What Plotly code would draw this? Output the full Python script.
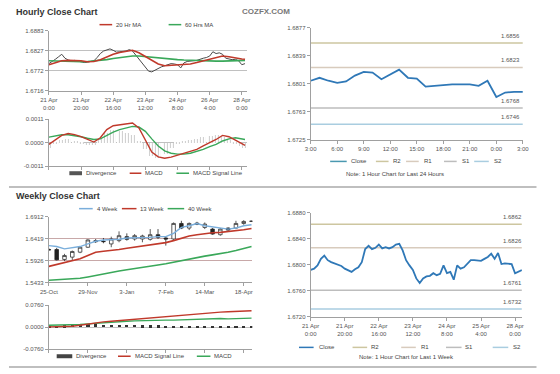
import plotly.graph_objects as go

W, H = 560, 374

# ---------------------------------------------------------------- data
# Hourly close chart (last week, 2-hour samples)
hourly_hours = list(range(0, 124, 2))
hourly_close = [1.6791, 1.6796, 1.6803, 1.6810, 1.6817, 1.6806, 1.6801, 1.6799, 1.6800, 1.6798,
                1.6796, 1.6794, 1.6795, 1.6797, 1.6799, 1.6808, 1.6819, 1.6826, 1.6830, 1.6832,
                1.6828, 1.6823, 1.6824, 1.6824, 1.6826, 1.6830, 1.6826, 1.6815, 1.6803, 1.6791,
                1.6780, 1.6770, 1.6768, 1.6773, 1.6776, 1.6782, 1.6785, 1.6788, 1.6791, 1.6790,
                1.6788, 1.6779, 1.6793, 1.6797, 1.6799, 1.6799, 1.6800, 1.6804, 1.6806, 1.6808,
                1.6812, 1.6824, 1.6819, 1.6821, 1.6817, 1.6806, 1.6803, 1.6802, 1.6803, 1.6799,
                1.6788, 1.6791]
ma_hours = list(range(0, 121, 4)) + [122]
ma20_hr = [1.6788, 1.6793, 1.6799, 1.6800, 1.6800, 1.6799, 1.6796, 1.6797, 1.6802, 1.6810,
           1.6817, 1.6822, 1.6826, 1.6828, 1.6821, 1.6810, 1.6799, 1.6790, 1.6785, 1.6786,
           1.6787, 1.6788, 1.6790, 1.6794, 1.6799, 1.6803, 1.6808, 1.6812, 1.6810, 1.6806,
           1.6804, 1.6803]
ma60_hr = [1.6799, 1.6798, 1.6797, 1.6796, 1.6796, 1.6796, 1.6797, 1.6798, 1.6800, 1.6802,
           1.6805, 1.6808, 1.6811, 1.6812, 1.6812, 1.6810, 1.6808, 1.6806, 1.6804, 1.6803,
           1.6802, 1.6801, 1.6800, 1.6800, 1.6799, 1.6799, 1.6798, 1.6798, 1.6799, 1.6800,
           1.6800, 1.6800]
macd_hr = [-0.00008, 0.00012, 0.00034, 0.00043, 0.00038, 0.00028, 0.00015, 0.00003, 0.00023, 0.00061,
           0.00079, 0.00084, 0.00087, 0.00092, 0.00069, 0.00015, -0.00043, -0.00066, -0.00072, -0.00067,
           -0.00058, -0.00049, -0.00043, -0.00031, -0.00015, 0.0, 0.00015, 0.00034, 0.00028, 0.00012,
           -0.00003, -0.00012]
signal_hr = [0.00026, 0.00031, 0.00037, 0.00037, 0.00034, 0.00028, 0.00021, 0.00015, 0.00018, 0.00034,
             0.00049, 0.00061, 0.00070, 0.00076, 0.00073, 0.00053, 0.00018, -0.00015, -0.00038, -0.00049,
             -0.00053, -0.00053, -0.00049, -0.00041, -0.00031, -0.00018, -0.00008, 0.00008, 0.00018, 0.00023,
             0.00018, 0.00015]
divergence_hr = [-0.00023, -0.00008, 0.00012, 0.00015, 0.00008, -0.00005, -0.00012, -0.00010, 0.00015, 0.00046,
                 0.00058, 0.00053, 0.00046, 0.00034, 0.00008, -0.00031, -0.00061, -0.00073, -0.00053, -0.00023,
                 -0.00008, 0.00005, 0.00012, 0.00018, 0.00028, 0.00031, 0.00034, 0.00028, 0.00012, -0.00008,
                 -0.00018, -0.00023]
hourly_tick_hours = [0, 20, 40, 60, 80, 100, 120]
hourly_tick_labels_left = ["21 Apr<br>0:00", "21 Apr<br>20:00", "22 Apr<br>16:00", "23 Apr<br>12:00",
                           "24 Apr<br>8:00", "26 Apr<br>4:00", "28 Apr<br>0:00"]
hourly_tick_labels_right = ["21 Apr<br>0:00", "21 Apr<br>20:00", "22 Apr<br>16:00", "23 Apr<br>12:00",
                            "24 Apr<br>8:00", "25 Apr<br>4:00", "28 Apr<br>0:00"]
price_hr_ticks = [1.6716, 1.6772, 1.6827, 1.6883]
macd_hr_ticks = [-0.0011, 0.0, 0.0011]

# Last 24 hours
day_hours = list(range(25))
day_close = [1.6805, 1.6809, 1.6805, 1.6802, 1.6804, 1.6812, 1.6817, 1.6816, 1.6807, 1.6814,
             1.6820, 1.6809, 1.6808, 1.6797, 1.6798, 1.6800, 1.6800, 1.6800, 1.6800, 1.6798,
             1.6805, 1.6783, 1.6789, 1.6790, 1.6790]
day_tick_hours = list(range(0, 25, 3))
day_tick_labels = ["3:00", "6:00", "9:00", "12:00", "15:00", "18:00", "21:00", "0:00", "3:00"]
day_ticks = [1.6725, 1.6763, 1.6801, 1.6839, 1.6877]
pivot_names = ["R2", "R1", "S1", "S2"]
day_pivots = [1.6856, 1.6823, 1.6768, 1.6746]

# Weekly candles
weeks = list(range(27))
week_open = [1.6171, 1.6171, 1.5949, 1.6001, 1.6112, 1.6223, 1.6371, 1.6356, 1.6297, 1.6371,
             1.6460, 1.6408, 1.6408, 1.6401, 1.6504, 1.6430, 1.6408, 1.6756, 1.6653, 1.6764,
             1.6667, 1.6630, 1.6504, 1.6653, 1.6653, 1.6756, 1.6801]
week_high = [1.6200, 1.6208, 1.6075, 1.6149, 1.6238, 1.6401, 1.6408, 1.6430, 1.6460, 1.6579,
             1.6534, 1.6519, 1.6504, 1.6630, 1.6630, 1.6460, 1.6779, 1.6816, 1.6779, 1.6793,
             1.6779, 1.6653, 1.6653, 1.6667, 1.6816, 1.6830, 1.6816]
week_low = [1.6150, 1.5926, 1.5912, 1.5926, 1.6090, 1.6208, 1.6319, 1.6312, 1.6223, 1.6334,
            1.6371, 1.6371, 1.6334, 1.6371, 1.6408, 1.6260, 1.6386, 1.6630, 1.6608, 1.6719,
            1.6630, 1.6504, 1.6482, 1.6593, 1.6630, 1.6727, 1.6793]
week_close = [1.6164, 1.5941, 1.6037, 1.6127, 1.6223, 1.6386, 1.6349, 1.6349, 1.6408, 1.6482,
              1.6401, 1.6482, 1.6475, 1.6504, 1.6445, 1.6408, 1.6756, 1.6653, 1.6756, 1.6742,
              1.6742, 1.6519, 1.6630, 1.6608, 1.6756, 1.6801, 1.6808]
ma4_wk = [1.6260, 1.6238, 1.6186, 1.6208, 1.6238, 1.6297, 1.6356, 1.6386, 1.6386, 1.6401,
          1.6430, 1.6430, 1.6430, 1.6445, 1.6460, 1.6460, 1.6534, 1.6667, 1.6705, 1.6756,
          1.6705, 1.6682, 1.6653, 1.6630, 1.6653, 1.6705, 1.6727]
ma13_wk = [1.5793, 1.5838, 1.5867, 1.5912, 1.5964, 1.6038, 1.6112, 1.6134, 1.6149, 1.6171,
           1.6201, 1.6223, 1.6245, 1.6267, 1.6297, 1.6327, 1.6371, 1.6423, 1.6475, 1.6504,
           1.6534, 1.6549, 1.6556, 1.6571, 1.6593, 1.6616, 1.6645]
ma40_wk = [1.5482, 1.5489, 1.5497, 1.5504, 1.5526, 1.5556, 1.5593, 1.5630, 1.5660, 1.5689,
           1.5719, 1.5749, 1.5778, 1.5800, 1.5823, 1.5852, 1.5889, 1.5926, 1.5964, 1.6001,
           1.6023, 1.6052, 1.6075, 1.6112, 1.6149, 1.6193, 1.6238]
week_tick_idx = [0, 5, 10, 15, 20, 25]
week_tick_labels = ["25-Oct", "29-Nov", "3-Jan", "7-Feb", "14-Mar", "18-Apr"]
week_ticks = [1.5433, 1.5926, 1.6419, 1.6912]
signal_wk = [0.0012, 0.0012, 0.0023, 0.0035, 0.0069, 0.0115, 0.0150, 0.0184, 0.0207, 0.0230,
             0.0265, 0.0288, 0.0299, 0.0322, 0.0345, 0.0368, 0.0392, 0.0415, 0.0438, 0.0461,
             0.0484, 0.0507, 0.0518, 0.0530, 0.0541, 0.0553, 0.0564]
macd_wk = [0.0069, 0.0069, 0.0069, 0.0081, 0.0092, 0.0115, 0.0138, 0.0161, 0.0184, 0.0196,
           0.0207, 0.0219, 0.0230, 0.0230, 0.0242, 0.0242, 0.0242, 0.0253, 0.0265, 0.0288,
           0.0299, 0.0311, 0.0299, 0.0288, 0.0299, 0.0311, 0.0311]
divergence_wk = [0.004, 0.005, 0.006, 0.007, 0.009, 0.011, 0.010, 0.009, 0.008, 0.008,
                 0.007, 0.007, 0.006, 0.006, 0.006, 0.005, 0.005, 0.005, 0.005, 0.004,
                 0.004, 0.003, 0.003, 0.002, 0.002, 0.002, 0.002]
macd_wk_ticks = [-0.0760, 0.0, 0.0760]

# Last week, hourly (2-hour samples)
wk_hours = list(range(0, 125, 2))
wk_hour_close = [1.6792, 1.6794, 1.6799, 1.6809, 1.6814, 1.6807, 1.6804, 1.6802, 1.6799, 1.6798,
                 1.6794, 1.6792, 1.6789, 1.6793, 1.6796, 1.6804, 1.6824, 1.6829, 1.6824, 1.6826,
                 1.6831, 1.6825, 1.6827, 1.6825, 1.6827, 1.6831, 1.6832, 1.6822, 1.6807, 1.6799,
                 1.6792, 1.6779, 1.6772, 1.6779, 1.6782, 1.6783, 1.6787, 1.6784, 1.6786, 1.6799,
                 1.6787, 1.6789, 1.6777, 1.6799, 1.6794, 1.6796, 1.6802, 1.6807, 1.6807, 1.6807,
                 1.6806, 1.6809, 1.6812, 1.6817, 1.6809, 1.6818, 1.6801, 1.6802, 1.6802, 1.6801,
                 1.6787, 1.6789, 1.6792]
wk_hour_ticks = [1.6720, 1.6760, 1.6800, 1.6840, 1.6880]
wk_pivots = [1.6862, 1.6826, 1.6761, 1.6732]

# ---------------------------------------------------------------- style
FONT = "Liberation Sans, Arial, sans-serif"
RED = "#c0392b"
GREEN = "#3aa85a"
BLUE4 = "#7aaedb"
CLOSE_BLUE = "#2f78b7"
PRICE_GRAY = "#4a4a4a"
PIVOT_COLORS = ["#cdc6a0", "#d8cbbd", "#bdbdbd", "#a9cde0"]
AXIS = "#a0a0a0"
GRID_H = "#c0c0c0"
GRID_W = "#c8a8a8"
TICKFONT = dict(family=FONT, size=6, color="#555555")


def dx(a, b):
    return [a / W, b / W]


def dy(top, bottom):
    return [1 - bottom / H, 1 - top / H]


def fmt(v):
    return f"{round(v, 4):.4f}"


fig = go.Figure()

# ---- hourly price (x, y)
fig.add_trace(go.Scatter(x=hourly_hours, y=hourly_close, mode="lines",
                         line=dict(color=PRICE_GRAY, width=1), xaxis="x", yaxis="y"))
fig.add_trace(go.Scatter(x=ma_hours, y=ma60_hr, mode="lines", line=dict(color=GREEN, width=1.6),
                         xaxis="x", yaxis="y"))
fig.add_trace(go.Scatter(x=ma_hours, y=ma20_hr, mode="lines", line=dict(color=RED, width=1.6),
                         xaxis="x", yaxis="y"))

# ---- hourly MACD (x2, y2)
fig.add_trace(go.Bar(x=ma_hours, y=divergence_hr, width=3.9, xaxis="x2", yaxis="y2",
                     marker=dict(color="white", line=dict(width=0),
                                 pattern=dict(shape="|", fgcolor="#999999", bgcolor="white",
                                              size=3, solidity=0.35))))
fig.add_trace(go.Scatter(x=ma_hours, y=signal_hr, mode="lines", line=dict(color=GREEN, width=1.4),
                         xaxis="x2", yaxis="y2"))
fig.add_trace(go.Scatter(x=ma_hours, y=macd_hr, mode="lines", line=dict(color=RED, width=1.4),
                         xaxis="x2", yaxis="y2"))

# ---- last 24 hours (x3, y3)
for lvl, col in zip(day_pivots, PIVOT_COLORS):
    fig.add_trace(go.Scatter(x=day_hours, y=[lvl] * len(day_hours), mode="lines",
                             line=dict(color=col, width=1.5), xaxis="x3", yaxis="y3"))
fig.add_trace(go.Scatter(x=day_hours, y=day_close, mode="lines",
                         line=dict(color=CLOSE_BLUE, width=1.8), xaxis="x3", yaxis="y3"))

# ---- weekly candles (x4, y4)
fig.add_trace(go.Scatter(x=weeks, y=ma40_wk, mode="lines", line=dict(color=GREEN, width=1.6),
                         xaxis="x4", yaxis="y4"))
fig.add_trace(go.Scatter(x=weeks, y=ma13_wk, mode="lines", line=dict(color=RED, width=1.6),
                         xaxis="x4", yaxis="y4"))
fig.add_trace(go.Scatter(x=weeks, y=ma4_wk, mode="lines", line=dict(color=BLUE4, width=1.4),
                         xaxis="x4", yaxis="y4"))
fig.add_trace(go.Candlestick(x=weeks, open=week_open, high=week_high, low=week_low, close=week_close,
                             xaxis="x4", yaxis="y4", whiskerwidth=0,
                             increasing=dict(fillcolor="white", line=dict(color="#333333", width=0.8)),
                             decreasing=dict(fillcolor="#222222", line=dict(color="#222222", width=0.8))))

# ---- weekly MACD (x5, y5)
fig.add_trace(go.Bar(x=weeks, y=divergence_wk, width=0.4, marker=dict(color="#333333", line=dict(width=0)),
                     xaxis="x5", yaxis="y5"))
fig.add_trace(go.Scatter(x=weeks, y=macd_wk, mode="lines", line=dict(color=GREEN, width=1.4),
                         xaxis="x5", yaxis="y5"))
fig.add_trace(go.Scatter(x=weeks, y=signal_wk, mode="lines", line=dict(color=RED, width=1.4),
                         xaxis="x5", yaxis="y5"))

# ---- last week hourly (x6, y6)
for lvl, col in zip(wk_pivots, PIVOT_COLORS):
    fig.add_trace(go.Scatter(x=[wk_hours[0], wk_hours[-1]], y=[lvl, lvl], mode="lines",
                             line=dict(color=col, width=1.5), xaxis="x6", yaxis="y6"))
fig.add_trace(go.Scatter(x=wk_hours, y=wk_hour_close, mode="lines",
                         line=dict(color=CLOSE_BLUE, width=1.8), xaxis="x6", yaxis="y6"))


def xaxis(domain, anchor, rng, tickvals=None, ticktext=None, labels=True):
    return dict(domain=domain, anchor=anchor, range=rng, tickvals=tickvals, ticktext=ticktext,
                showticklabels=labels, showgrid=False, zeroline=False, showline=True,
                linecolor=AXIS, linewidth=1, ticks="outside", ticklen=3, tickcolor=AXIS,
                tickfont=TICKFONT, fixedrange=True)


def yaxis(domain, anchor, rng, tickvals, grid=None):
    return dict(domain=domain, anchor=anchor, range=rng, tickvals=tickvals,
                ticktext=[fmt(v) for v in tickvals], showgrid=grid is not None,
                gridcolor=grid if grid else None, gridwidth=1, zeroline=False, showline=True,
                linecolor=AXIS, linewidth=1, ticks="outside", ticklen=3, tickcolor=AXIS,
                tickfont=TICKFONT, fixedrange=True)


LX = dx(41, 245)
LXW = dx(41, 250)
RX = dx(310, 528)
RXW = dx(310, 527)

layout = dict(
    width=W, height=H, margin=dict(l=0, r=0, t=0, b=0),
    paper_bgcolor="white", plot_bgcolor="white", showlegend=False,
    font=dict(family=FONT, size=6, color="#444444"),
    bargap=0, boxgap=0.35,
    xaxis=xaxis(LX, "y", [0, 123.5], hourly_tick_hours, hourly_tick_labels_left),
    yaxis=yaxis(dy(28, 89), "x", [price_hr_ticks[0], price_hr_ticks[-1]], price_hr_ticks, GRID_H),
    xaxis2=xaxis(LX, "y2", [0, 123.5], hourly_tick_hours, labels=False),
    yaxis2=yaxis(dy(118, 166), "x2", [macd_hr_ticks[0], macd_hr_ticks[-1]], macd_hr_ticks, GRID_H),
    xaxis3=xaxis(RX, "y3", [0, 24], day_tick_hours, day_tick_labels),
    yaxis3=yaxis(dy(25, 139), "x3", [day_ticks[0], day_ticks[-1]], day_ticks),
    xaxis4=xaxis(LXW, "y4", [0, 26.1], week_tick_idx, week_tick_labels),
    yaxis4=yaxis(dy(217, 284), "x4", [week_ticks[0], week_ticks[-1]], week_ticks, GRID_W),
    xaxis5=xaxis(LXW, "y5", [0, 26.1], week_tick_idx, labels=False),
    yaxis5=yaxis(dy(307, 352), "x5", [macd_wk_ticks[0], macd_wk_ticks[-1]], macd_wk_ticks, GRID_H),
    xaxis6=xaxis(RXW, "y6", [0, 124], hourly_tick_hours, hourly_tick_labels_right),
    yaxis6=yaxis(dy(213, 319), "x6", [wk_hour_ticks[0], wk_hour_ticks[-1]], wk_hour_ticks),
)
layout["xaxis4"]["rangeslider"] = dict(visible=False)
fig.update_layout(**layout)

shapes = []
annotations = []


def text(x, y, s, size=6, color="#444444", anchor="left", bold=False):
    annotations.append(dict(x=x / W, y=1 - y / H, xref="paper", yref="paper", text=f"<b>{s}</b>" if bold else s,
                            showarrow=False, xanchor=anchor, yanchor="middle",
                            font=dict(family=FONT, size=size, color=color)))


def legline(x0, x1, y, color, width=1.5):
    shapes.append(dict(type="line", xref="paper", yref="paper", x0=x0 / W, x1=x1 / W,
                       y0=1 - y / H, y1=1 - y / H, line=dict(color=color, width=width)))


# titles and separators
text(5, 9, "Hourly Close Chart", size=9, color="#333333", bold=True)
text(264, 9, "COZFX.COM", size=8, color="#777777", anchor="center", bold=True)
text(5, 196, "Weekly Close Chart", size=9, color="#333333", bold=True)
for yy in (187, 370):
    legline(0, 542, yy, "#aaaaaa", 1.5)

# hourly legends
legline(93, 106, 22, RED); text(108, 22, "20 Hr MA")
legline(164, 177, 22, GREEN); text(179, 22, "60 Hrs MA")
legline(62, 75, 173, "#555555", 4); text(77, 173, "Divergence")
legline(124, 136, 173, RED); text(138, 173, "MACD")
legline(172, 185, 173, GREEN); text(187, 173, "MACD Signal Line")

# 24h legend
legline(330, 347, 161, "#4a98b0"); text(349, 161, "Close")
for (x0, x1, tx), nm, col in zip([(377, 390, 392), (408, 421, 424), (447, 460, 463), (478, 493, 496)],
                                 pivot_names, PIVOT_COLORS):
    legline(x0, x1, 161, col); text(tx, 161, nm)
text(397, 174, "Note: 1 Hour Chart for Last 24 Hours", anchor="center")

# weekly legends
legline(72, 86, 209, BLUE4); text(88, 209, "4 Week")
legline(116, 131, 209, RED); text(133, 209, "13 Week")
legline(163, 180, 209, GREEN); text(182, 209, "40 Week")
legline(49, 65, 359, "#444444", 4); text(67, 359, "Divergence")
legline(112, 125, 359, RED); text(127, 359, "MACD Signal Line")
legline(193, 207, 359, GREEN); text(209, 359, "MACD")

# 1 week legend
legline(298, 313, 350, CLOSE_BLUE); text(316, 350, "Close")
for (x0, x1, tx), nm, col in zip([(353, 368, 370), (403, 418, 421), (449, 465, 467), (497, 513, 516)],
                                 pivot_names, PIVOT_COLORS):
    legline(x0, x1, 350, col); text(tx, 350, nm)
text(408, 360, "Note: 1 Hour Chart for Last 1 Week", anchor="center")

# pivot value labels
for lvl in day_pivots:
    annotations.append(dict(x=515 / W, y=lvl, xref="paper", yref="y3", text=fmt(lvl), showarrow=False,
                            xanchor="center", yanchor="middle", yshift=7,
                            font=dict(family=FONT, size=6, color="#555555")))
for lvl in wk_pivots:
    annotations.append(dict(x=517 / W, y=lvl, xref="paper", yref="y6", text=fmt(lvl), showarrow=False,
                            xanchor="center", yanchor="middle", yshift=7,
                            font=dict(family=FONT, size=6, color="#555555")))

fig.update_layout(shapes=shapes, annotations=annotations)

fig.write_html("out.html", config={"displayModeBar": False},
               post_script="document.body.style.margin='0px';")
